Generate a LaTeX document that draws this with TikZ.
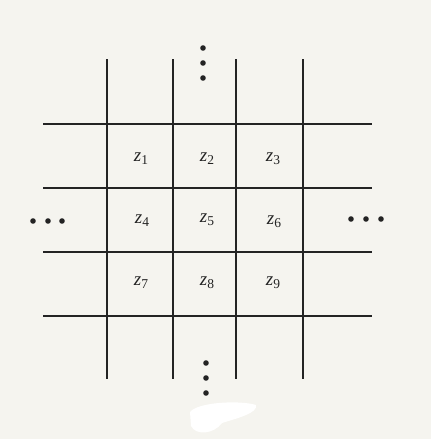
\documentclass[tikz,border=0pt]{standalone}
\usepackage{fontspec}
\setmainfont{Liberation Serif}
\definecolor{paper}{RGB}{245,244,239}
\definecolor{ink}{RGB}{35,35,35}
\newcommand{\zlab}[1]{{\itshape z}\raisebox{-0.35ex}{\fontsize{13.5}{14}\selectfont #1}}
\tikzset{
  gridline/.style={draw=ink, line width=1.7pt},
  dotmark/.style={fill=ink, draw=none},
  zlabel/.style={font=\fontsize{19}{22}\selectfont, text=ink, inner sep=0pt},
}
\begin{document}
\begin{tikzpicture}[x=1pt,y=-1pt]
\useasboundingbox (0,0) rectangle (431,439);
\fill[paper] (0,0) rectangle (431,439);
% white scan blob
\fill[white] (190,412) .. controls (198,402) and (240,400) .. (256,405) .. controls (258,413) and (238,418) .. (222,423) .. controls (214,434) and (196,436) .. (191,426) -- cycle;
% vertical lines
\foreach \x in {107,173,236,303} \draw[gridline] (\x,59) -- (\x,379);
% horizontal lines
\foreach \y in {124,188,252,316} \draw[gridline] (43,\y) -- (372,\y);
% dots
\foreach \y in {48,63,78} \fill[dotmark] (203,\y) circle (2.8);
\foreach \y in {363,378,393} \fill[dotmark] (206,\y) circle (2.8);
\foreach \x in {33,48,62} \fill[dotmark] (\x,221) circle (2.8);
\foreach \x in {351,366,381} \fill[dotmark] (\x,219) circle (2.8);
% labels
\node[zlabel] (z1) at (141,159) {\zlab{1}};
\node[zlabel] (z2) at (207,159) {\zlab{2}};
\node[zlabel] (z3) at (273,159) {\zlab{3}};
\node[zlabel] (z4) at (142,221) {\zlab{4}};
\node[zlabel] (z5) at (207,220) {\zlab{5}};
\node[zlabel] (z6) at (274,222) {\zlab{6}};
\node[zlabel] (z7) at (141,283) {\zlab{7}};
\node[zlabel] (z8) at (207,283) {\zlab{8}};
\node[zlabel] (z9) at (273,283) {\zlab{9}};
\end{tikzpicture}
\end{document}
